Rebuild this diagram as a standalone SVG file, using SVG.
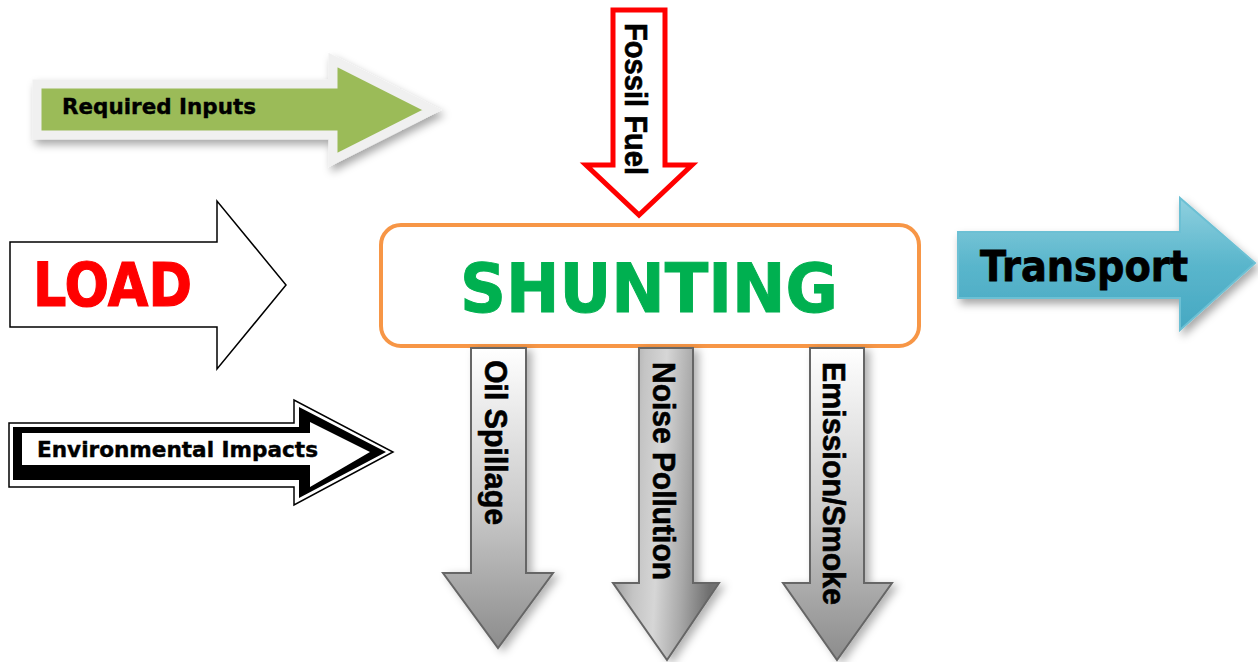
<svg xmlns="http://www.w3.org/2000/svg" width="1258" height="662" viewBox="0 0 1258 662">
<defs>
  <filter id="shadow" x="-20%" y="-20%" width="150%" height="150%">
    <feDropShadow dx="3" dy="5" stdDeviation="4" flood-color="#000" flood-opacity="0.35"/>
  </filter>
  <filter id="shadowR" x="-20%" y="-10%" width="150%" height="130%">
    <feDropShadow dx="5" dy="3" stdDeviation="4" flood-color="#000" flood-opacity="0.3"/>
  </filter>
  <linearGradient id="gTeal" x1="0" y1="0" x2="0" y2="1">
    <stop offset="0" stop-color="#8fd0df"/>
    <stop offset="0.5" stop-color="#5ab6cc"/>
    <stop offset="1" stop-color="#46a8c2"/>
  </linearGradient>
  <linearGradient id="gGrayV" x1="0" y1="0" x2="0" y2="1">
    <stop offset="0" stop-color="#ffffff"/>
    <stop offset="0.55" stop-color="#c8c8c8"/>
    <stop offset="1" stop-color="#8c8c8c"/>
  </linearGradient>
  <linearGradient id="gGrayH" x1="0" y1="0" x2="1" y2="0.15">
    <stop offset="0" stop-color="#8a8a8a"/>
    <stop offset="0.3" stop-color="#c4c4c4"/>
    <stop offset="0.5" stop-color="#d6d6d6"/>
    <stop offset="0.75" stop-color="#a8a8a8"/>
    <stop offset="1" stop-color="#707070"/>
  </linearGradient>
  <style>
    .vt { font-family: "Liberation Sans", Arial, sans-serif; font-weight: bold; font-size: 32px; fill: #000; stroke: #000; stroke-width: 0.6; }
    .tah { font-family: "DejaVu Sans", Verdana, sans-serif; font-weight: bold; }
    .gray { stroke: #666; stroke-width: 2; stroke-linejoin: miter; }
  </style>
</defs>
<rect width="1258" height="662" fill="#fff"/>

<g id="required-inputs">
  <polygon points="37,84 333,84 333,60 432,110 333,160 333,135 37,135" fill="#9bbb59" stroke="#f0f0f0" stroke-width="9" filter="url(#shadow)"/>
  <text class="tah" x="62" y="114" font-size="22" textLength="194" lengthAdjust="spacingAndGlyphs" fill="#000" stroke="#000" stroke-width="0.4">Required Inputs</text>
</g>

<g id="load">
  <polygon points="10,242 217,242 217,201 286,285 217,369 217,327 10,327" fill="#fff" stroke="#000" stroke-width="1.5"/>
  <text class="tah" x="33" y="306" font-size="61" textLength="159" lengthAdjust="spacingAndGlyphs" fill="#ff0000" stroke="#ff0000" stroke-width="1.2">LOAD</text>
</g>

<g id="environmental-impacts">
  <polygon points="9,423 294,423 294,400 393,452 294,505 294,487 9,487" fill="#fff" stroke="#000" stroke-width="1.5"/>
  <polygon points="13,427 299,427 299,407 386,452 299,498 299,480 13,480" fill="#000"/>
  <polygon points="22,433 310,433 310,422 370,452 310,487 310,465 22,465" fill="#fff"/>
  <text class="tah" x="37" y="457" font-size="21" textLength="281" lengthAdjust="spacingAndGlyphs" fill="#000" stroke="#000" stroke-width="0.4">Environmental Impacts</text>
</g>

<g id="fossil-fuel">
  <polygon points="613,10 665,10 665,165 692,165 639,215 586,165 613,165" fill="#fff" stroke="#ff0000" stroke-width="5"/>
  <text class="vt" transform="translate(625,23) rotate(90)" font-size="29" textLength="152" lengthAdjust="spacingAndGlyphs">Fossil Fuel</text>
</g>

<g id="shunting">
  <rect x="381" y="225" width="538" height="121" rx="20" ry="20" fill="#fff" stroke="#f79646" stroke-width="4"/>
  <text class="tah" x="460" y="312" font-size="68" textLength="378" lengthAdjust="spacingAndGlyphs" fill="#00b050" stroke="#00b050" stroke-width="1">SHUNTING</text>
</g>

<g id="transport">
  <polygon points="958,232 1180,232 1180,198 1255,263 1180,330 1180,298 958,298" fill="url(#gTeal)" stroke="#6cc0d4" stroke-width="2" filter="url(#shadow)"/>
  <text class="tah" x="980" y="281" font-size="42" textLength="208" lengthAdjust="spacingAndGlyphs" fill="#000" stroke="#000" stroke-width="0.8">Transport</text>
</g>

<g id="oil-spillage">
  <polygon class="gray" points="471,348 526,348 526,573 553,573 498,648 443,573 471,573" fill="url(#gGrayV)" filter="url(#shadowR)"/>
  <text class="vt" transform="translate(485,360) rotate(90)" textLength="165" lengthAdjust="spacingAndGlyphs">Oil Spillage</text>
</g>

<g id="noise-pollution">
  <polygon class="gray" points="639,348 693,348 693,583 719,583 667,660 613,583 639,583" fill="url(#gGrayH)" filter="url(#shadowR)"/>
  <text class="vt" transform="translate(653,362) rotate(90)" textLength="218" lengthAdjust="spacingAndGlyphs">Noise Pollution</text>
</g>

<g id="emission-smoke">
  <polygon class="gray" points="810,348 864,348 864,583 892,583 837,660 783,583 810,583" fill="url(#gGrayV)" filter="url(#shadowR)"/>
  <text class="vt" transform="translate(823,362) rotate(90)" textLength="243" lengthAdjust="spacingAndGlyphs">Emission/Smoke</text>
</g>

<g id="connectors"></g>
</svg>
